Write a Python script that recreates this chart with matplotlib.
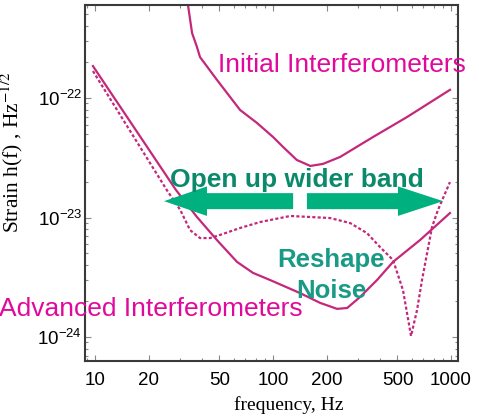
import matplotlib

matplotlib.use("Agg")
import matplotlib.pyplot as plt  # noqa: E402
from matplotlib.patches import FancyArrow  # noqa: E402
from matplotlib.ticker import LogLocator, NullFormatter  # noqa: E402

# ---- data (frequency in Hz, strain in Hz^-1/2) ----
init_freq = [32.9, 33.3, 35.1, 37.4, 38.9, 48.4, 65.3, 81.3, 100, 114, 136, 162, 191, 238,
             365, 566, 986]
init_strain = [7.2e-22, 6.0e-22, 3.5e-22, 2.67e-22, 2.2e-22, 1.42e-22, 7.94e-23, 6.18e-23,
               4.72e-23, 3.89e-23, 3.03e-23, 2.70e-23, 2.81e-23, 3.21e-23, 4.72e-23, 6.93e-23,
               1.17e-22]

adv_freq = [9.74, 28.5, 37.4, 48.4, 62.8, 77.2, 96.2, 142, 184, 229, 261, 308, 384, 472, 670, 986]
adv_strain = [1.85e-22, 1.70e-23, 1.01e-23, 6.48e-24, 4.25e-24, 3.44e-24, 3.00e-24, 2.33e-24,
              1.93e-24, 1.72e-24, 1.75e-24, 2.16e-24, 3.00e-24, 4.25e-24, 6.48e-24, 1.09e-23]

tuned_freq = [9.74, 25.3, 30.1, 34.2, 38.9, 44.3, 50.3, 65.3, 84.5, 125, 209, 271, 337, 399,
              472, 537, 596, 644, 687, 782, 845, 986]
tuned_strain = [1.68e-22, 1.70e-23, 1.16e-23, 7.85e-24, 6.73e-24, 6.73e-24, 7.14e-24, 8.17e-24,
                9.16e-24, 1.03e-23, 9.90e-24, 8.99e-24, 7.41e-24, 5.66e-24, 4.41e-24, 2.47e-24,
                1.02e-24, 1.68e-24, 3.00e-24, 8.33e-24, 1.16e-23, 1.98e-23]

x_ticks = [10, 20, 50, 100, 200, 500, 1000]
x_tick_labels = ["10", "20", "50", "100", "200", "500", "1000"]
y_ticks = [1e-22, 1e-23, 1e-24]

LINE = "#c4287a"
PINK = "#e1099b"
GREEN = "#0b8a6b"
TEAL = "#189a86"
ARROW = "#00b07e"

plt.rcParams["font.family"] = ["Liberation Sans", "DejaVu Sans"]
plt.rcParams["mathtext.fontset"] = "stix"

fig = plt.figure(figsize=(4.79, 4.18), dpi=100)
ax = fig.add_axes([85 / 479, 57 / 418, 373 / 479, 356 / 418])

line_kw = dict(color=LINE, lw=1.6, solid_joinstyle="round", dash_joinstyle="round")
ax.plot(init_freq, init_strain, **line_kw)
ax.plot(adv_freq, adv_strain, **line_kw)
ax.plot(tuned_freq, tuned_strain, ls=(0, (1.4, 1.0)), **line_kw)

ax.set_xscale("log")
ax.set_yscale("log")
ax.set_xlim(8.79, 1094)
ax.set_ylim(6.3e-25, 6.0e-22)

ax.set_xticks(x_ticks)
ax.set_xticklabels(x_tick_labels)
ax.xaxis.set_minor_locator(LogLocator(base=10, subs=range(2, 10)))
ax.xaxis.set_minor_formatter(NullFormatter())
ax.set_yticks(y_ticks)
ax.yaxis.set_minor_locator(LogLocator(base=10, subs=range(2, 10)))
ax.yaxis.set_minor_formatter(NullFormatter())
ax.tick_params(which="both", direction="in", top=True, right=True, color="#888888", width=0.8)
ax.tick_params(which="major", length=4, labelsize=13.5)
ax.tick_params(which="minor", length=2)
ax.tick_params(axis="x", pad=8)
ax.tick_params(axis="y", pad=2)
for sp in ax.spines.values():
    sp.set_color("#3a3a3a")
    sp.set_linewidth(1.5)

# axis labels (serif, as in the original figure)
ax.text(0.546, -0.138, "frequency, Hz", transform=ax.transAxes, ha="center", va="baseline",
        fontsize=14, family="Liberation Serif")
ax.text(-0.196, 0.36, "Strain h(f) , Hz$^{-1/2}$", transform=ax.transAxes, rotation=90,
        ha="center", va="bottom", fontsize=15.5, family="Liberation Serif")

# "open up wider band" arrows
ax.add_patch(FancyArrow(0.558, 0.449, -0.346, 0, width=0.045, head_width=0.083,
                        head_length=0.115, length_includes_head=True, color=ARROW,
                        lw=0, transform=ax.transAxes, zorder=4))
ax.add_patch(FancyArrow(0.595, 0.449, 0.365, 0, width=0.045, head_width=0.083,
                        head_length=0.121, length_includes_head=True, color=ARROW,
                        lw=0, transform=ax.transAxes, zorder=4))

ax.text(0.690, 0.812, "Initial Interferometers", transform=ax.transAxes, ha="center",
        va="baseline", fontsize=19, color=PINK, zorder=5)
ax.text(0.177, 0.126, "Advanced Interferometers", transform=ax.transAxes, ha="center",
        va="baseline", fontsize=19, color=PINK, zorder=5)
ax.text(0.568, 0.489, "Open up wider band", transform=ax.transAxes, ha="center",
        va="baseline", fontsize=19, fontweight="bold", color=GREEN, zorder=5)
ax.text(0.660, 0.264, "Reshape", transform=ax.transAxes, ha="center", va="baseline",
        fontsize=18.5, fontweight="bold", color=TEAL, zorder=5)
ax.text(0.660, 0.177, "Noise", transform=ax.transAxes, ha="center", va="baseline",
        fontsize=18.5, fontweight="bold", color=TEAL, zorder=5)

fig.savefig("out.png", dpi=100)
plt.close(fig)
